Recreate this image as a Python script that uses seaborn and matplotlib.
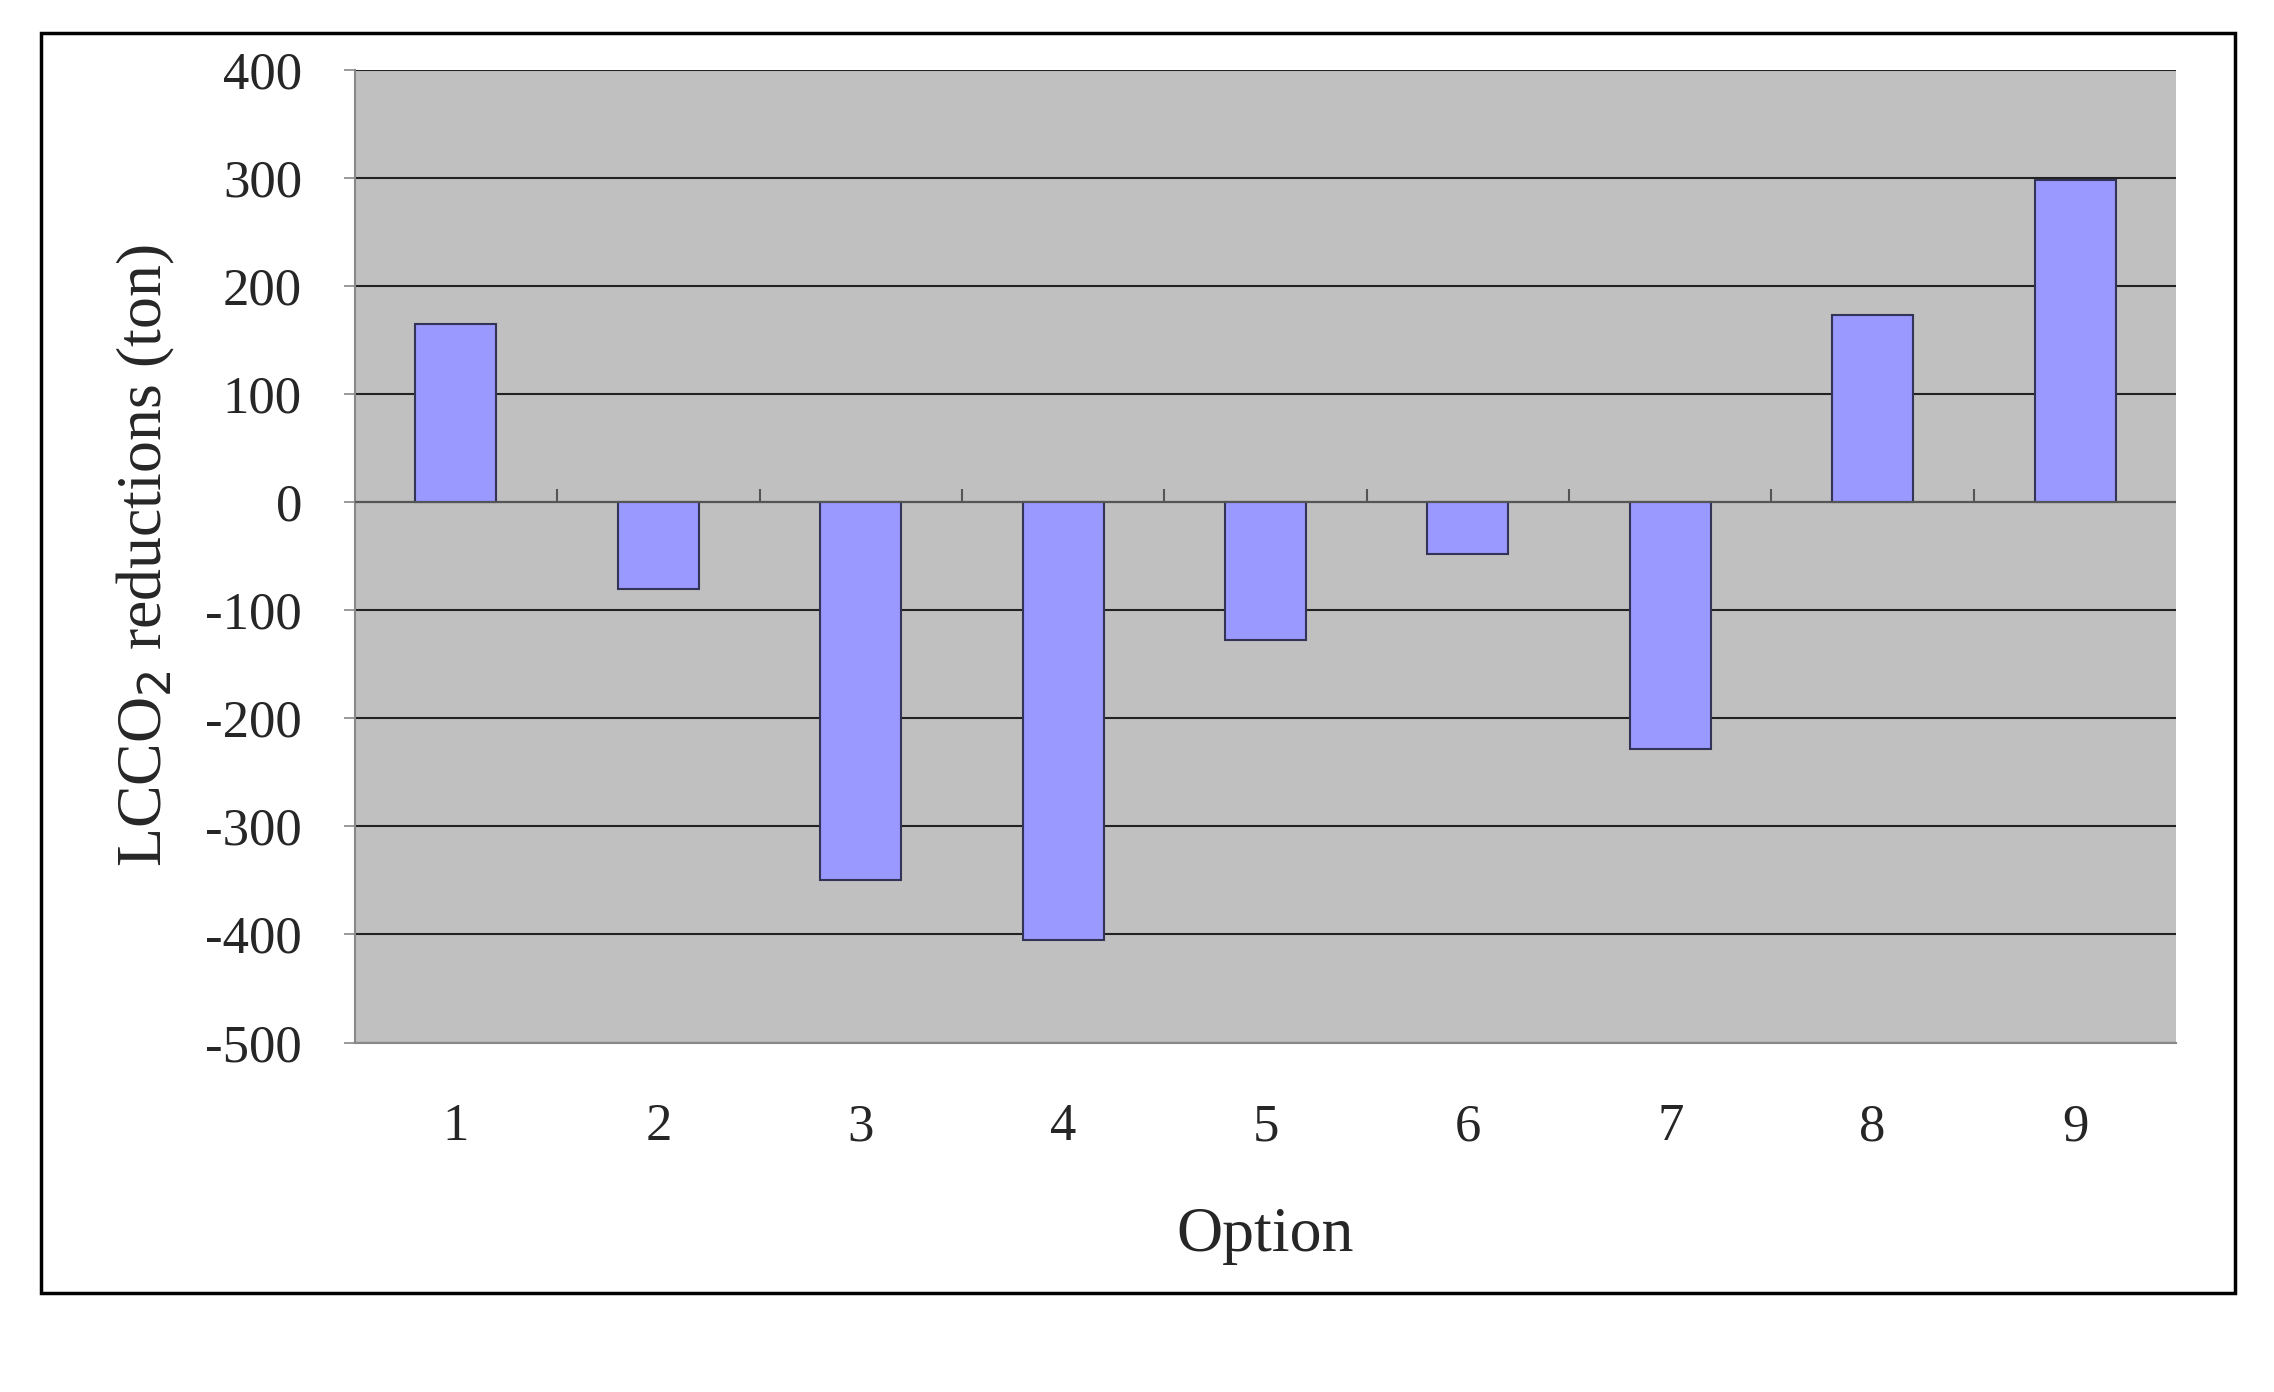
import matplotlib
matplotlib.use("Agg")
import matplotlib.pyplot as plt
import seaborn as sns
import pandas as pd
from matplotlib.patches import Rectangle

options = ["1", "2", "3", "4", "5", "6", "7", "8", "9"]
reductions = [165, -80, -350, -405, -128, -48, -228, 173, 298]
y_ticks = [400, 300, 200, 100, 0, -100, -200, -300, -400, -500]

df = pd.DataFrame({"option": options, "value": reductions})

sns.set_style("white")
plt.rcParams["font.family"] = ["Liberation Serif", "DejaVu Serif"]

fig = plt.figure(figsize=(22.74, 13.92), dpi=100)
ax = fig.add_axes([0.156, 0.251, 0.801, 0.699])
ax.set_facecolor("#C0C0C0")

sns.barplot(data=df, x="option", y="value", color="#9999FF", saturation=1,
            edgecolor="#333355", linewidth=1.5, width=0.4, ax=ax, zorder=3)

ax.set_ylim(-500, 400)
ax.set_xlim(-0.5, len(options) - 0.5)
ax.set_yticks(y_ticks)
ax.set_yticklabels([str(t) for t in y_ticks])
ax.yaxis.grid(True, color="#222222", linewidth=1.5, zorder=1)
ax.set_axisbelow(True)
ax.axhline(0, color="#555555", linewidth=1.5, zorder=4)
for i in range(1, len(options)):
    ax.vlines(i - 0.5, 0, 12, color="#555555", linewidth=1.5, zorder=4)

for s in ["top", "right"]:
    ax.spines[s].set_visible(False)
ax.spines["left"].set_color("#888888")
ax.spines["bottom"].set_color("#888888")
ax.spines["left"].set_linewidth(1.5)
ax.spines["bottom"].set_linewidth(1.5)

ax.tick_params(axis="y", left=True, length=8, width=1.2, color="#888888",
               labelsize=38, pad=30)
ax.tick_params(axis="x", bottom=False, labelsize=38, pad=40)
ax.set_xlabel("Option", fontsize=46, labelpad=40)
ax.set_ylabel("LCCO$_2$ reductions (ton)", fontsize=46, labelpad=20)

fig.patches.append(Rectangle((0.018, 0.071), 0.965, 0.905, transform=fig.transFigure,
                             fill=False, edgecolor="black", linewidth=2.5))

fig.savefig("out.png", dpi=100)
